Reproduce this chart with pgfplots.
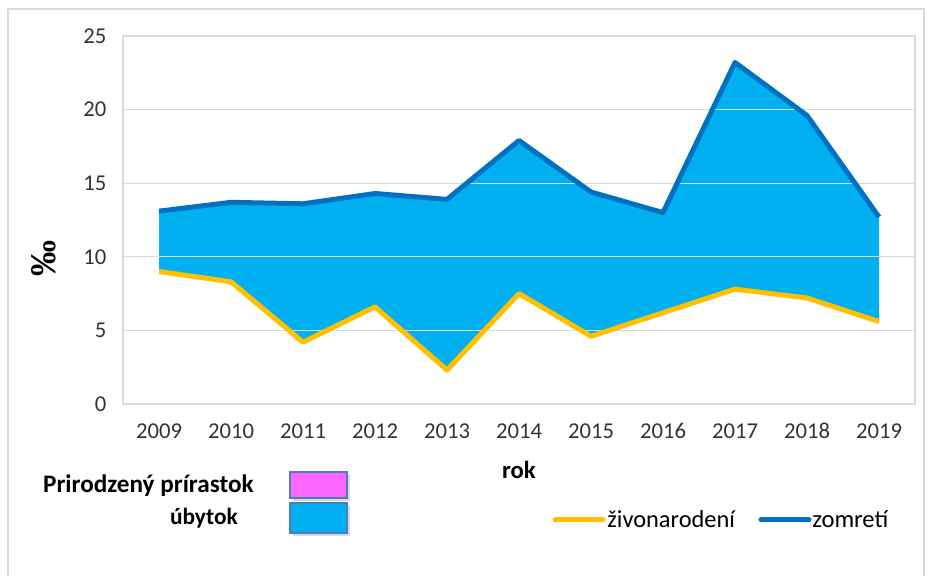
\documentclass[border=0pt]{standalone}
\usepackage{pgfplots}
\pgfplotsset{compat=1.18}
\usepackage{fontspec}
\setmainfont{Carlito}
\newfontfamily\timesf{Liberation Serif}
\definecolor{fillc}{HTML}{00B0F0}
\definecolor{darkb}{HTML}{0070C0}
\definecolor{yel}{HTML}{FFC000}
\definecolor{pinkc}{HTML}{FF66FF}
\definecolor{gridc}{HTML}{D9D9D9}
\definecolor{tickc}{HTML}{333333}
\definecolor{boxb}{HTML}{4A7EBB}
\begin{document}
\begin{tikzpicture}
\path (0,0) rectangle (697.5pt,432pt);
\begin{axis}[
  set layers,
  at={(92.25pt,129pt)}, anchor=south west,
  scale only axis, width=594pt, height=276pt,
  xmin=-0.5, xmax=10.5, ymin=0, ymax=25,
  xtick={0,1,2,3,4,5,6,7,8,9,10},
  xticklabels={2009,2010,2011,2012,2013,2014,2015,2016,2017,2018,2019},
  ytick={0,5,10,15,20,25},
  ymajorgrids,
  grid style={draw=gridc, line width=1pt},
  axis line style={draw=gridc, line width=1pt},
  tick style={draw=none},
  /pgf/number format/assume math mode=true,
  ticklabel style={font=\fontsize{17}{20}\selectfont, text=tickc},
  yticklabel style={xshift=-9pt},
  xticklabel style={yshift=-11pt},
  ylabel={\timesf\bfseries\fontsize{27}{30}\selectfont ‰},
  ylabel style={at={(axis description cs:-0.1,0.395)}, anchor=center},
  xlabel={\bfseries\fontsize{18.5}{20}\selectfont rok},
  xlabel style={at={(axis description cs:0.5,-0.179)}, anchor=center},
]
\addplot[fill=fillc, draw=none, on layer=axis background] coordinates {
(0,13.1) (1,13.7) (2,13.6) (3,14.3) (4,13.9) (5,17.9) (6,14.4) (7,13.0) (8,23.2) (9,19.6) (10,12.7)
(10,5.6) (9,7.2) (8,7.8) (7,6.2) (6,4.6) (5,7.5) (4,2.3) (3,6.6) (2,4.2) (1,8.3) (0,9.0)} -- cycle;
\addplot[draw=yel, line width=3.75pt, line join=round] coordinates {
(0,9.0) (1,8.3) (2,4.2) (3,6.6) (4,2.3) (5,7.5) (6,4.6) (7,6.2) (8,7.8) (9,7.2) (10,5.6)};
\addplot[draw=darkb, line width=3.75pt, line join=round] coordinates {
(0,13.1) (1,13.7) (2,13.6) (3,14.3) (4,13.9) (5,17.9) (6,14.4) (7,13.0) (8,23.2) (9,19.6) (10,12.7)};
\end{axis}
\begin{scope}[x=0.75pt, y=-0.75pt, shift={(0pt,432pt)}]
  \draw[gridc, line width=0.8pt] (8,576) -- (8,9) -- (924,9) -- (924,576);
  \node[anchor=east, font=\bfseries\fontsize{18.9}{20}\selectfont, inner sep=0pt] at (254,486) {Prirodzený prírastok};
  \node[anchor=east, font=\bfseries\fontsize{17.5}{20}\selectfont, inner sep=0pt] at (238,518) {úbytok};
  \fill[black!15] (293,475) rectangle (350,501);
  \fill[black!15] (293,506) rectangle (350,536);
  \draw[boxb, line width=1.2pt, fill=pinkc] (290,472) rectangle (347,498);
  \draw[boxb, line width=1.2pt, fill=fillc] (290,503) rectangle (347,533);
  \draw[yel, line width=3.75pt, line cap=round] (555,520) -- (603,520);
  \node[anchor=west, font=\fontsize{18.3}{20}\selectfont, inner sep=0pt] at (607,519) {živonarodení};
  \draw[darkb, line width=3.75pt, line cap=round] (761,520) -- (809,520);
  \node[anchor=west, font=\fontsize{18.5}{20}\selectfont, inner sep=0pt] at (812,519) {zomretí};
\end{scope}
\end{tikzpicture}
\end{document}
